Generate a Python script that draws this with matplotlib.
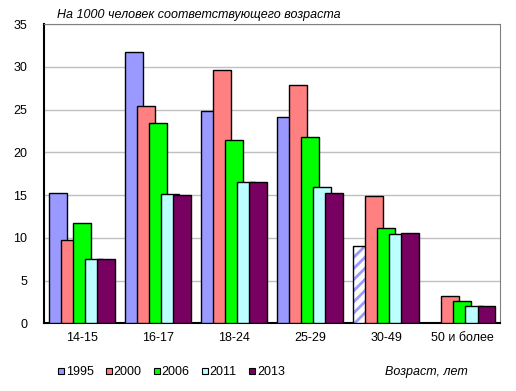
import numpy as np
import matplotlib.pyplot as plt
from matplotlib.lines import Line2D

plt.rcParams['font.family'] = ['Liberation Sans', 'DejaVu Sans']
plt.rcParams['hatch.linewidth'] = 2.0

# Datos del gráfico
categorias = ['14-15', '16-17', '18-24', '25-29', '30-49', '50 и более']
anios = ['1995', '2000', '2006', '2011', '2013']
v1995 = [15.3, 31.7, 24.8, 24.1, 9.1, 0]
v2000 = [9.8, 25.4, 29.6, 27.9, 14.9, 3.2]
v2006 = [11.8, 23.4, 21.4, 21.8, 11.2, 2.6]
v2011 = [7.5, 15.1, 16.5, 15.9, 10.5, 2.0]
v2013 = [7.5, 15.0, 16.5, 15.2, 10.6, 2.0]
colores = ['#9999ff', '#ff8080', '#00ff00', '#bbffff', '#770060']

series = [v1995, v2000, v2006, v2011, v2013]

fig = plt.figure(figsize=(5.16, 3.91), dpi=100)
ax = fig.add_axes([0.0853, 0.173, 0.884, 0.765])

x = np.arange(len(categorias))
paso = 0.158   # separación entre barras (se solapan)
ancho = 0.228

for i, (vals, col) in enumerate(zip(series, colores)):
    pos = x + (i - 2) * paso
    for j, v in enumerate(vals):
        if v == 0:
            continue
        if i == 0 and j == 4:
            # barra rayada (dato estimado)
            ax.bar(pos[j], v, width=ancho, color='white', edgecolor='#9999ff',
                   hatch='///', linewidth=0, zorder=3 + i)
            ax.bar(pos[j], v, width=ancho, color='none', edgecolor='black',
                   linewidth=1, zorder=3 + i)
        else:
            ax.bar(pos[j], v, width=ancho, color=col, edgecolor='black',
                   linewidth=1, zorder=3 + i)

ax.set_xlim(-0.5, len(categorias) - 0.5)
ax.set_ylim(0, 35)
ax.set_yticks(range(0, 36, 5))
ax.set_xticks(x)
ax.set_xticklabels(categorias)
ax.tick_params(length=0, labelsize=9, pad=6)
ax.tick_params(axis='y', pad=12)
ax.yaxis.grid(True, color='#c0c0c0', linewidth=1)
ax.set_axisbelow(True)

ax.spines['left'].set_color('black')
ax.spines['bottom'].set_color('black')
ax.spines['left'].set_linewidth(1.5)
ax.spines['bottom'].set_linewidth(1.5)
ax.spines['top'].set_color('#808080')
ax.spines['right'].set_color('#808080')

fig.text(57 / 516, 1 - 15 / 391, 'На 1000 человек соответствующего возраста',
         fontsize=9, style='italic', va='center', ha='left')
fig.text(385 / 516, 1 - 372 / 391, 'Возраст, лет', fontsize=9,
         style='italic', va='center', ha='left')

manijas = [Line2D([], [], marker='s', linestyle='none', markersize=5,
                  markerfacecolor=c, markeredgecolor='black', markeredgewidth=0.8)
           for c in colores]
fig.legend(manijas, anios, loc='center', bbox_to_anchor=(171 / 516, 1 - 372 / 391),
           ncol=5, frameon=False, fontsize=9, handlelength=0.6, handletextpad=0.1,
           columnspacing=0.9, borderpad=0)

fig.savefig('out.png', dpi=100)
